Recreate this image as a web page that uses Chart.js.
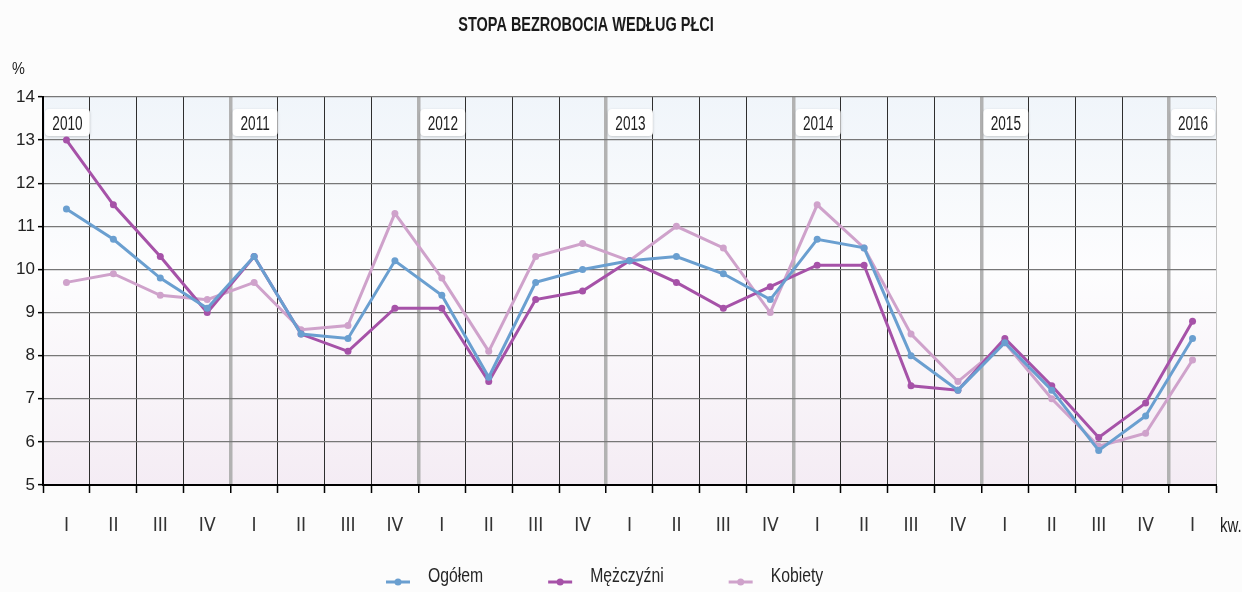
<!DOCTYPE html>
<html><head><meta charset="utf-8">
<script src="https://cdn.jsdelivr.net/npm/chart.js@4.4.1/dist/chart.umd.min.js"></script>
<style>
html,body{margin:0;padding:0;background:#fcfcfc;}
#wrap{width:1242px;height:592px;position:relative;}
</style>
</head><body><div id="wrap"><canvas id="c" width="1242" height="592"></canvas></div>
<script>
// ---- data ----
const quarters = ['I','II','III','IV','I','II','III','IV','I','II','III','IV','I','II','III','IV','I','II','III','IV','I','II','III','IV','I'];
const years = ['2010','2011','2012','2013','2014','2015','2016'];
const yearStartIndex = [0,4,8,12,16,20,24];
const ogolem =     [11.4,10.7,9.8,9.1, 10.3,8.5,8.4,10.2, 9.4,7.5,9.7,10.0, 10.2,10.3,9.9,9.3, 10.7,10.5,8.0,7.2, 8.3,7.2,5.8,6.6, 8.4];
const mezczyzni =  [13.0,11.5,10.3,9.0, 10.3,8.5,8.1,9.1, 9.1,7.4,9.3,9.5, 10.2,9.7,9.1,9.6, 10.1,10.1,7.3,7.2, 8.4,7.3,6.1,6.9, 8.8];
const kobiety =    [9.7,9.9,9.4,9.3, 9.7,8.6,8.7,11.3, 9.8,8.1,10.3,10.6, 10.2,11.0,10.5,9.0, 11.5,10.5,8.5,7.4, 8.3,7.0,5.9,6.2, 7.9];
const seriesNames = ['Ogółem','Mężczyźni','Kobiety'];
const seriesColors = ['#6a9fd0','#a652a8','#cfa2cb'];
const yTicks = [5,6,7,8,9,10,11,12,13,14];

const COND = "'DejaVu Sans Condensed', 'Liberation Sans', sans-serif";
const REG = "'Liberation Sans', Arial, sans-serif";

// draw text squeezed horizontally (the source uses a condensed face)
function condText(ctx, text, x, y, sx, align) {
  ctx.save();
  ctx.translate(x, y);
  ctx.scale(sx, 1);
  ctx.textAlign = align || 'left';
  ctx.fillText(text, 0, 0);
  ctx.restore();
}

const bgPlugin = {
  id: 'bg',
  beforeDraw(chart) {
    const {ctx, chartArea: a} = chart;
    // condensed title: wrap the library title block's draw
    const tb = chart.titleBlock;
    if (tb && !tb._cond) {
      const orig = tb.draw.bind(tb);
      tb.draw = function () {
        const c = this.ctx;
        const cx = (this.left + this.right) / 2;
        c.save();
        c.translate(586, 1);
        c.scale(0.69, 1);
        c.translate(-cx, 0);
        orig();
        c.restore();
      };
      tb._cond = true;
    }
    const g = ctx.createLinearGradient(0, a.top, 0, a.bottom);
    g.addColorStop(0, '#f0f5fa');
    g.addColorStop(0.45, '#fdfdfe');
    g.addColorStop(1, '#f4ecf4');
    ctx.save();
    ctx.fillStyle = g;
    ctx.fillRect(a.left, a.top, a.right - a.left, a.bottom - a.top);
    ctx.restore();
  }
};

const yearPlugin = {
  id: 'years',
  beforeDatasetsDraw(chart) {
    const {ctx, chartArea: a, scales: {x}} = chart;
    const slot = x.getPixelForValue(1) - x.getPixelForValue(0);
    ctx.save();
    years.forEach((yr, k) => {
      const idx = yearStartIndex[k];
      const left = x.getPixelForValue(idx) - slot / 2 + 2;
      const w = Math.min(slot - 2, a.right - left - 1);
      const top = a.top + 12, h = 27;
      ctx.shadowColor = 'rgba(0,0,0,0.2)';
      ctx.shadowBlur = 3;
      ctx.shadowOffsetY = 1;
      ctx.fillStyle = '#ffffff';
      ctx.beginPath();
      ctx.roundRect(left, top, w, h, 4);
      ctx.fill();
      ctx.shadowColor = 'transparent';
      ctx.fillStyle = '#1e1e1e';
      ctx.font = '20px ' + REG;
      ctx.textBaseline = 'alphabetic';
      condText(ctx, yr, left + w / 2, top + h / 2 + 7, 0.68, 'center');
    });
    ctx.restore();
  },
  afterDraw(chart) {
    const {ctx, chartArea: a} = chart;
    ctx.save();
    ctx.fillStyle = '#222';
    ctx.textBaseline = 'alphabetic';
    ctx.font = '17px ' + REG;
    condText(ctx, '%', 12, 74, 0.85, 'left');
    ctx.font = '20px ' + REG;
    condText(ctx, 'kw.', a.right + 4, 532, 0.75, 'left');
    // legend
    let lx = 386;
    const ly = 582;
    chart.data.datasets.forEach((ds) => {
      ctx.strokeStyle = ds.borderColor;
      ctx.lineWidth = 3;
      ctx.beginPath();
      ctx.moveTo(lx, ly);
      ctx.lineTo(lx + 24, ly);
      ctx.stroke();
      ctx.fillStyle = ds.borderColor;
      ctx.beginPath();
      ctx.arc(lx + 12, ly, 3.5, 0, Math.PI * 2);
      ctx.fill();
      ctx.fillStyle = '#262626';
      ctx.font = '21px ' + REG;
      condText(ctx, ds.label, lx + 42, ly, 0.75, 'left');
      lx += 42 + ctx.measureText(ds.label).width * 0.75 + 65;
    });
    ctx.restore();
  }
};

const datasets = [ogolem, mezczyzni, kobiety].map((d, i) => ({
  label: seriesNames[i],
  data: d,
  borderColor: seriesColors[i],
  backgroundColor: seriesColors[i],
  pointBackgroundColor: seriesColors[i],
  pointBorderWidth: 0,
  pointRadius: 3.5,
  borderWidth: 3,
  tension: 0,
  fill: false
}));

new Chart(document.getElementById('c'), {
  type: 'line',
  data: { labels: quarters, datasets },
  options: {
    responsive: false,
    animation: false,
    layout: { padding: { top: 0, left: 0, right: 26, bottom: 0 } },
    plugins: {
      legend: { display: false },
      tooltip: { enabled: false },
      title: {
        display: true,
        text: 'STOPA BEZROBOCIA WEDŁUG PŁCI',
        color: '#1a1a1a',
        font: { family: REG, size: 21, weight: 'bold', lineHeight: 1.2 },
        padding: { top: 12, bottom: 59.8 }
      }
    },
    scales: {
      x: {
        type: 'category',
        offset: true,
        afterFit(s) { s.height = 107; },
        grid: {
          offset: true,
          drawTicks: true,
          tickLength: 8,
          tickColor: '#000',
          tickWidth: 1.5,
          color(c) {
            if (c.type !== 'tick') return '#c4c4c4';
            if (c.index > 0 && c.index % 4 === 0) return '#b2b2b2';
            return '#2e2e2e';
          },
          lineWidth(c) {
            if (c.type !== 'tick') return 1;
            if (c.index > 0 && c.index % 4 === 0) return 3.5;
            return 1;
          }
        },
        border: { color: '#000', width: 2 },
        ticks: {
          color: '#333',
          font: { family: COND, size: 19 },
          padding: 22,
          maxRotation: 0,
          autoSkip: false
        }
      },
      y: {
        min: 5, max: 14,
        afterFit(s) { s.width = 43; },
        afterBuildTicks(s) { s.ticks = yTicks.map(v => ({ value: v })); },
        grid: {
          color: '#777',
          lineWidth: 1.3,
          tickLength: 5,
          tickColor: '#000',
          tickWidth: 1.5
        },
        border: { color: '#000', width: 2 },
        ticks: {
          color: '#222',
          font: { family: REG, size: 17 },
          padding: 3,
          stepSize: 1
        }
      }
    }
  },
  plugins: [bgPlugin, yearPlugin]
});
</script>
</body></html>
